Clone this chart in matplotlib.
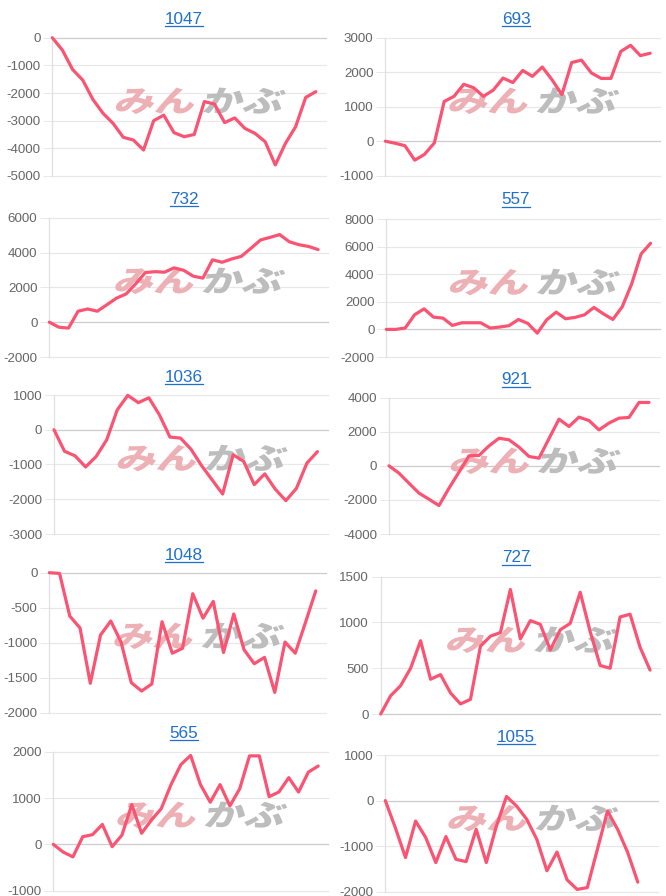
import numpy as np
import matplotlib
matplotlib.use("Agg")
import matplotlib.pyplot as plt
from matplotlib.lines import Line2D
from matplotlib.patches import PathPatch
from matplotlib.textpath import TextPath
from matplotlib.font_manager import FontProperties
from matplotlib.transforms import Affine2D, IdentityTransform

plt.rcParams['font.family'] = ['Liberation Sans', 'DejaVu Sans']

# ---------------- data ----------------
titles = ["1047", "693", "732", "557", "1036", "921", "1048", "727", "565", "1055"]

s1047 = [0, -450, -1150, -1530, -2230, -2730, -3100, -3600, -3700, -4060, -3000, -2800, -3430, -3580,
         -3500, -2310, -2400, -3070, -2900, -3280, -3460, -3760, -4600, -3820, -3220, -2160, -1950, None]
s693 = [0, -60, -130, -550, -380, -50, 1150, 1300, 1650, 1550, 1300, 1480, 1830, 1700, 2050, 1880,
        2150, 1780, 1350, 2280, 2350, 1980, 1820, 1820, 2600, 2780, 2480, 2550, None]
s732 = [0, -290, -340, 630, 760, 630, 1000, 1380, 1620, 2200, 2850, 2900, 2870, 3120, 2980, 2640, 2530,
        3580, 3440, 3630, 3780, 4240, 4720, 4870, 5030, 4620, 4450, 4350, 4170, None]
s557 = [0, 0, 100, 1060, 1490, 890, 820, 290, 480, 480, 480, 100, 170, 270, 720, 430, -270, 700, 1250,
        770, 870, 1060, 1590, 1130, 720, 1640, 3300, 5470, 6240, None]
s1036 = [0, -620, -750, -1070, -770, -290, 570, 990, 780, 920, 430, -210, -240, -560, -1030, -1440,
         -1850, -720, -910, -1580, -1270, -1710, -2040, -1690, -960, -630, None]
s921 = [0, -430, -1020, -1600, -1960, -2330, -1310, -370, 590, 610, 1170, 1620, 1530, 1100, 550, 450,
        1600, 2740, 2310, 2860, 2660, 2110, 2510, 2800, 2840, 3720, 3720, None]
s1048 = [0, -10, -620, -790, -1580, -890, -690, -990, -1570, -1690, -1590, -700, -1150, -1080, -300,
         -650, -410, -1140, -590, -1100, -1300, -1210, -1710, -990, -1150, -710, -260, None]
s727 = [0, 200, 310, 500, 800, 380, 430, 230, 110, 160, 740, 850, 890, 1360, 820, 1020, 980, 700, 920,
        990, 1330, 900, 530, 500, 1060, 1090, 730, 480, None]
s565 = [0, -165, -270, 165, 210, 430, -50, 200, 860, 240, 525, 770, 1290, 1720, 1920, 1290, 910, 1290,
        830, 1200, 1910, 1910, 1030, 1130, 1440, 1130, 1560, 1690, None]
s1055 = [0, -600, -1250, -450, -810, -1360, -790, -1290, -1340, -630, -1360, -560, 90, -120, -410, -850,
         -1540, -1130, -1740, -1950, -1910, -1070, -230, -630, -1140, -1790, None, None]

series = [s1047, s693, s732, s557, s1036, s921, s1048, s727, s565, s1055]

yticks = [
    [-5000, -4000, -3000, -2000, -1000, 0],
    [-1000, 0, 1000, 2000, 3000],
    [-2000, 0, 2000, 4000, 6000],
    [-2000, 0, 2000, 4000, 6000, 8000],
    [-3000, -2000, -1000, 0, 1000],
    [-4000, -2000, 0, 2000, 4000],
    [-2000, -1500, -1000, -500, 0],
    [0, 500, 1000, 1500],
    [-1000, 0, 1000, 2000],
    [-2000, -1000, 0, 1000],
]

# ---------------- layout (pixels: left, right, top, bottom) ----------------
W, H = 666, 896
boxes = [
    (52.3, 326, 37.7, 176), (385.3, 660, 37.7, 175.7),
    (49.3, 327.7, 217.7, 357), (386.3, 660, 219, 357),
    (54, 328, 395, 534), (389, 659, 397.7, 534),
    (49.3, 326, 572.7, 712.7), (380.7, 660, 576.7, 714),
    (53.3, 328, 751.7, 890.7), (385.3, 658, 755, 891.7),
]
title_pos = [(184, 19), (516, 19), (184, 199), (516, 200), (184, 377), (516, 380),
             (184, 555), (516, 558), (184, 733), (516, 737)]

LINE = '#fb5472'
GRID = '#e8e8e8'
ZERO = '#cccccc'
TICKC = '#666666'
BLUE = '#1f6fd2'

fig = plt.figure(figsize=(W / 100, H / 100), dpi=100)
fig.patch.set_facecolor('white')

wm_font = FontProperties(family=['Noto Sans CJK JP'], weight='heavy')

title_texts = []
for k, (vals, ticks, box) in enumerate(zip(series, yticks, boxes)):
    L, R, T, B = box
    ax = fig.add_axes([L / W, 1 - B / H, (R - L) / W, (B - T) / H])
    y = np.array([np.nan if v is None else v for v in vals], dtype=float)
    x = np.arange(len(y))
    ax.plot(x, y, color=LINE, lw=2.3, solid_joinstyle='round', solid_capstyle='round',
            zorder=5, clip_on=False)
    ax.set_xlim(0, len(y) - 1)
    ax.set_ylim(min(ticks), max(ticks))
    ax.set_yticks(ticks)
    ax.set_yticklabels([str(t) for t in ticks])
    ax.set_xticks([])
    for t in ticks:
        ax.axhline(t, color=ZERO if t == 0 else GRID, lw=0.9, zorder=1, clip_on=False)
    for sp in ['top', 'right', 'bottom']:
        ax.spines[sp].set_visible(False)
    ax.spines['left'].set_color('#e0e0e0')
    ax.spines['left'].set_linewidth(0.9)
    ax.tick_params(axis='y', length=6.5, width=0.7, color=GRID, labelcolor=TICKC,
                   labelsize=9.6, pad=2)
    ax.set_facecolor('none')

    # watermark
    cx = (L + R) / 2 + 10
    cy_top = T + 60
    py = H - cy_top - 14
    for txt, col, dx in [("みん", '#ecb0b5', -86), ("かぶ", '#bdbdbd', 2)]:
        tp = TextPath((0, 0), txt, size=33, prop=wm_font)
        tr = Affine2D().scale(1.22, 0.9).skew_deg(14, 0).translate(cx + dx, py)
        patch = PathPatch(tp, facecolor=col, edgecolor='none', transform=tr + IdentityTransform(),
                          zorder=2, clip_on=False)
        ax.add_artist(patch)

    tx, ty = title_pos[k]
    t = fig.text(tx / W, 1 - ty / H, titles[k], ha='center', va='center', color=BLUE, fontsize=12.3)
    title_texts.append(t)

fig.canvas.draw()
r = fig.canvas.get_renderer()
for t in title_texts:
    bb = t.get_window_extent(r)
    fig.add_artist(Line2D([bb.x0, bb.x1], [bb.y0 + 0.5, bb.y0 + 0.5], color=BLUE, lw=0.9,
                          transform=IdentityTransform()))

fig.savefig('out.png', dpi=100, facecolor='white')
